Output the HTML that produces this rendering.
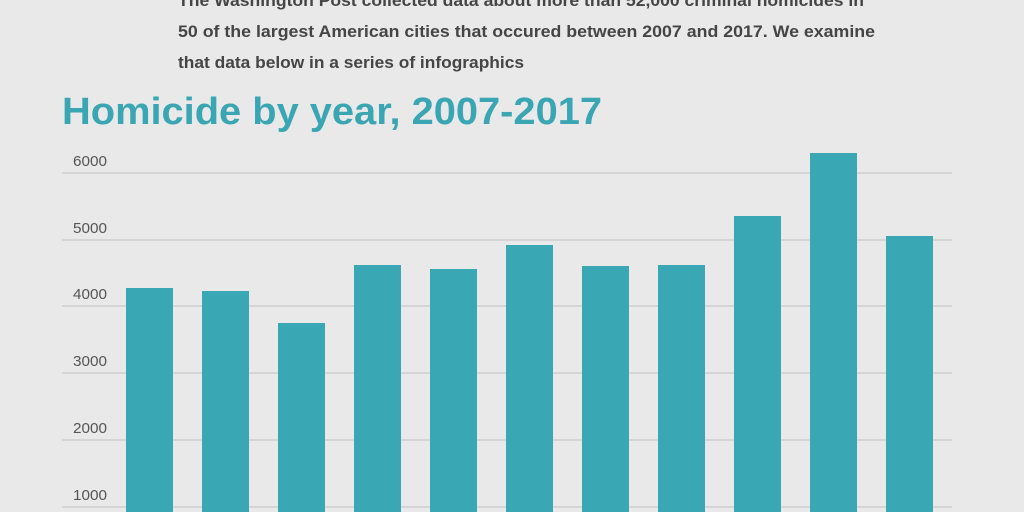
<!DOCTYPE html><html><head><style>body{margin:0;background:#e8e9e8}svg{display:block}</style></head><body>
<svg width="1024" height="512" xmlns="http://www.w3.org/2000/svg" font-family="Liberation Sans, sans-serif">
<rect width="1024" height="512" fill="#e8e9e8"/>
<g font-weight="bold" fill="#454545" font-size="17">
<text x="178" y="6" textLength="686" lengthAdjust="spacingAndGlyphs">The Washington Post collected data about more than 52,000 criminal homicides in</text>
<text x="178" y="37" textLength="697" lengthAdjust="spacingAndGlyphs">50 of the largest American cities that occured between 2007 and 2017. We examine</text>
<text x="178" y="68" textLength="346" lengthAdjust="spacingAndGlyphs">that data below in a series of infographics</text>
</g>
<text x="62" y="124" font-size="38" font-weight="bold" fill="#3aa6b3" textLength="540" lengthAdjust="spacingAndGlyphs">Homicide by year, 2007-2017</text>
<g stroke="#c8c9c8" stroke-width="1.3">
<line x1="62" x2="952" y1="173" y2="173"/><line x1="62" x2="952" y1="240" y2="240"/><line x1="62" x2="952" y1="306" y2="306"/><line x1="62" x2="952" y1="373" y2="373"/><line x1="62" x2="952" y1="440" y2="440"/><line x1="62" x2="952" y1="507" y2="507"/>
</g>
<g fill="#555" font-size="15">
<text x="73" y="166" textLength="34" lengthAdjust="spacingAndGlyphs">6000</text>
<text x="73" y="233" textLength="34" lengthAdjust="spacingAndGlyphs">5000</text>
<text x="73" y="299" textLength="34" lengthAdjust="spacingAndGlyphs">4000</text>
<text x="73" y="366" textLength="34" lengthAdjust="spacingAndGlyphs">3000</text>
<text x="73" y="433" textLength="34" lengthAdjust="spacingAndGlyphs">2000</text>
<text x="73" y="500" textLength="34" lengthAdjust="spacingAndGlyphs">1000</text>
</g>
<g fill="#3aa7b4">
<rect x="126" y="288" width="47" height="230"/>
<rect x="202" y="291" width="47" height="230"/>
<rect x="278" y="323" width="47" height="200"/>
<rect x="354" y="265" width="47" height="250"/>
<rect x="430" y="269" width="47" height="250"/>
<rect x="506" y="245" width="47" height="270"/>
<rect x="582" y="266" width="47" height="250"/>
<rect x="658" y="265" width="47" height="250"/>
<rect x="734" y="216" width="47" height="300"/>
<rect x="810" y="153" width="47" height="360"/>
<rect x="886" y="236" width="47" height="280"/>
</g>
</svg></body></html>
